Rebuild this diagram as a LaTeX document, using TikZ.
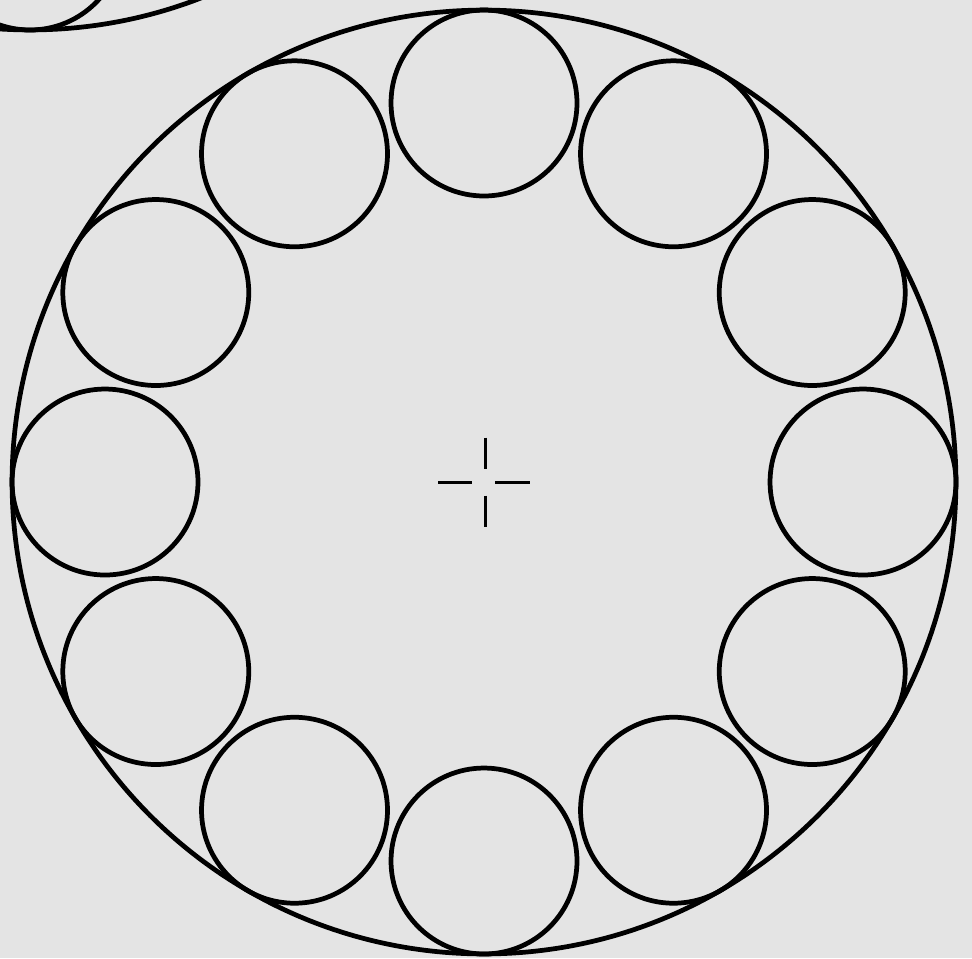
\documentclass[tikz,border=0pt]{standalone}
\definecolor{paper}{RGB}{228,228,228}
\tikzset{
  ring/.style={circle, draw=black, line width=2.7pt, inner sep=0pt, outer sep=0pt, minimum size=3.72cm},
  bigring/.style={circle, draw=black, line width=2.7pt, inner sep=0pt, outer sep=0pt, minimum size=18.88cm},
  tick/.style={draw=black, line width=1.5pt}
}
\begin{document}
\begin{tikzpicture}[x=0.02cm, y=-0.02cm]
\useasboundingbox (0,0) rectangle (972,958);
\clip (0,0) rectangle (972,958);
\fill[paper] (0,0) rectangle (972,958);
% fragment of the neighbouring figure (top left)
\node[bigring] (nbig) at (30,-442) {};
\node[ring] (nsmall) at (30,-63) {};
% main figure
\node[bigring] (big) at (484,482) {};
\foreach \a [count=\i] in {0,30,...,330}
  \path (484,482) ++(\a:379) node[ring] (s\i) {};
% centre mark
\coordinate (c) at (485.5,482.5);
\draw[tick] (c) ++(-47.5,0) -- ++(34,0);
\draw[tick] (c) ++(9.5,0) -- ++(35,0);
\draw[tick] (c) ++(0,-45) -- ++(0,31);
\draw[tick] (c) ++(0,13) -- ++(0,31);
\end{tikzpicture}
\end{document}
